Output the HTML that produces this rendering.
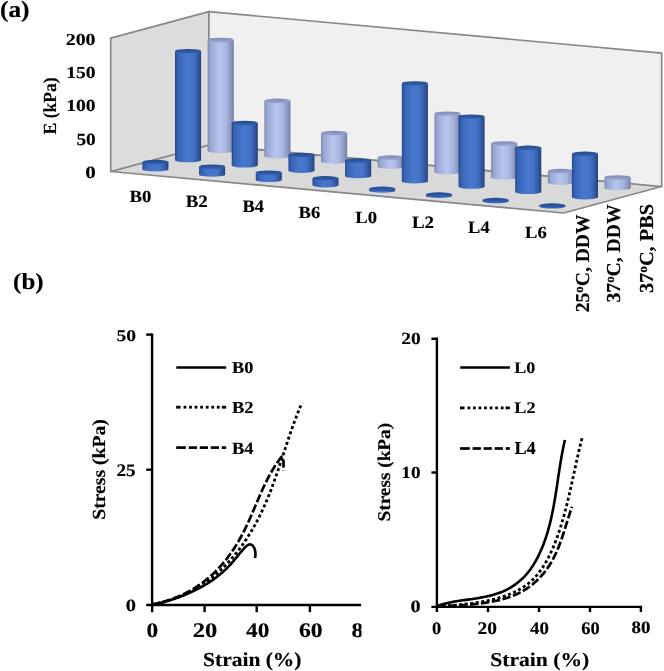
<!DOCTYPE html>
<html><head><meta charset="utf-8"><style>
html,body{margin:0;padding:0;background:#fff;}
svg{display:block;filter:contrast(1);}
text{font-family:"Liberation Serif",serif;font-weight:bold;font-size:100px;fill:#000;stroke:#000;stroke-width:0.8px;stroke-linejoin:round;text-rendering:geometricPrecision;}
</style></head><body>
<svg width="664" height="671" viewBox="0 0 664 671">
<defs>
<linearGradient id="gd" x1="0" y1="0" x2="1" y2="0">
<stop offset="0" stop-color="#27478a"/><stop offset="0.1" stop-color="#3763b5"/><stop offset="0.45" stop-color="#4878cd"/>
<stop offset="0.7" stop-color="#4472c6"/><stop offset="0.88" stop-color="#3359a3"/><stop offset="1" stop-color="#243f7a"/>
</linearGradient>
<linearGradient id="gl" x1="0" y1="0" x2="1" y2="0">
<stop offset="0" stop-color="#7a86ad"/><stop offset="0.1" stop-color="#98a6d2"/><stop offset="0.45" stop-color="#b8c6ee"/>
<stop offset="0.7" stop-color="#a9b6df"/><stop offset="0.88" stop-color="#8f9ac0"/><stop offset="1" stop-color="#6f7aa0"/>
</linearGradient>
<linearGradient id="cd" x1="0" y1="0" x2="0" y2="1">
<stop offset="0" stop-color="#24488f"/><stop offset="1" stop-color="#3462b2"/>
</linearGradient>
<linearGradient id="cl" x1="0" y1="0" x2="0" y2="1">
<stop offset="0" stop-color="#7e8ab4"/><stop offset="1" stop-color="#9aa7d2"/>
</linearGradient>
<clipPath id="clipL"><rect x="0" y="600" width="361.5" height="71"/></clipPath>
</defs>
<rect width="664" height="671" fill="#fff"/>
<polygon points="110.7,171.5 208.9,145.0 661.7,186.5 563.5,213.0" fill="#d9d9d9" stroke="#888888" stroke-width="1.7" stroke-linejoin="round"/>
<polygon points="110.7,171.5 208.9,145.0 208.9,11.599999999999994 110.7,38.099999999999994" fill="#dcdcdc" stroke="#888888" stroke-width="1.7" stroke-linejoin="round"/>
<polygon points="208.9,145.0 661.7,186.5 661.7,53.099999999999994 208.9,11.599999999999994" fill="#f0f0f0" stroke="#888888" stroke-width="1.7" stroke-linejoin="round"/>
<path d="M207.65,40.00 L207.65,150.80 A13.05,2.3 0 0 0 233.75,150.80 L233.75,40.00 Z" fill="url(#gl)"/><ellipse cx="220.70" cy="40.00" rx="13.05" ry="2.3" fill="url(#cl)"/>
<path d="M264.35,100.80 L264.35,156.10 A13.05,2.3 0 0 0 290.45,156.10 L290.45,100.80 Z" fill="url(#gl)"/><ellipse cx="277.40" cy="100.80" rx="13.05" ry="2.3" fill="url(#cl)"/>
<path d="M321.05,133.10 L321.05,161.40 A13.05,2.3 0 0 0 347.15,161.40 L347.15,133.10 Z" fill="url(#gl)"/><ellipse cx="334.10" cy="133.10" rx="13.05" ry="2.3" fill="url(#cl)"/>
<path d="M377.75,157.60 L377.75,166.70 A13.05,2.3 0 0 0 403.85,166.70 L403.85,157.60 Z" fill="url(#gl)"/><ellipse cx="390.80" cy="157.60" rx="13.05" ry="2.3" fill="url(#cl)"/>
<path d="M434.45,113.70 L434.45,172.00 A13.05,2.3 0 0 0 460.55,172.00 L460.55,113.70 Z" fill="url(#gl)"/><ellipse cx="447.50" cy="113.70" rx="13.05" ry="2.3" fill="url(#cl)"/>
<path d="M491.15,143.50 L491.15,177.30 A13.05,2.3 0 0 0 517.25,177.30 L517.25,143.50 Z" fill="url(#gl)"/><ellipse cx="504.20" cy="143.50" rx="13.05" ry="2.3" fill="url(#cl)"/>
<path d="M547.85,171.10 L547.85,182.60 A13.05,2.3 0 0 0 573.95,182.60 L573.95,171.10 Z" fill="url(#gl)"/><ellipse cx="560.90" cy="171.10" rx="13.05" ry="2.3" fill="url(#cl)"/>
<path d="M604.55,177.50 L604.55,187.90 A13.05,2.3 0 0 0 630.65,187.90 L630.65,177.50 Z" fill="url(#gl)"/><ellipse cx="617.60" cy="177.50" rx="13.05" ry="2.3" fill="url(#cl)"/>
<path d="M175.00,51.20 L175.00,160.00 A13.05,2.3 0 0 0 201.10,160.00 L201.10,51.20 Z" fill="url(#gd)"/><ellipse cx="188.05" cy="51.20" rx="13.05" ry="2.3" fill="url(#cd)"/>
<path d="M231.70,123.00 L231.70,165.30 A13.05,2.3 0 0 0 257.80,165.30 L257.80,123.00 Z" fill="url(#gd)"/><ellipse cx="244.75" cy="123.00" rx="13.05" ry="2.3" fill="url(#cd)"/>
<path d="M288.40,155.00 L288.40,170.60 A13.05,2.3 0 0 0 314.50,170.60 L314.50,155.00 Z" fill="url(#gd)"/><ellipse cx="301.45" cy="155.00" rx="13.05" ry="2.3" fill="url(#cd)"/>
<path d="M345.10,160.60 L345.10,175.90 A13.05,2.3 0 0 0 371.20,175.90 L371.20,160.60 Z" fill="url(#gd)"/><ellipse cx="358.15" cy="160.60" rx="13.05" ry="2.3" fill="url(#cd)"/>
<path d="M401.80,83.50 L401.80,181.20 A13.05,2.3 0 0 0 427.90,181.20 L427.90,83.50 Z" fill="url(#gd)"/><ellipse cx="414.85" cy="83.50" rx="13.05" ry="2.3" fill="url(#cd)"/>
<path d="M458.50,116.70 L458.50,186.50 A13.05,2.3 0 0 0 484.60,186.50 L484.60,116.70 Z" fill="url(#gd)"/><ellipse cx="471.55" cy="116.70" rx="13.05" ry="2.3" fill="url(#cd)"/>
<path d="M515.20,147.90 L515.20,191.80 A13.05,2.3 0 0 0 541.30,191.80 L541.30,147.90 Z" fill="url(#gd)"/><ellipse cx="528.25" cy="147.90" rx="13.05" ry="2.3" fill="url(#cd)"/>
<path d="M571.90,153.90 L571.90,197.10 A13.05,2.3 0 0 0 598.00,197.10 L598.00,153.90 Z" fill="url(#gd)"/><ellipse cx="584.95" cy="153.90" rx="13.05" ry="2.3" fill="url(#cd)"/>
<path d="M142.35,162.10 L142.35,169.20 A13.05,2.3 0 0 0 168.45,169.20 L168.45,162.10 Z" fill="url(#gd)"/><ellipse cx="155.40" cy="162.10" rx="13.05" ry="2.3" fill="url(#cd)"/>
<path d="M199.05,166.70 L199.05,174.50 A13.05,2.3 0 0 0 225.15,174.50 L225.15,166.70 Z" fill="url(#gd)"/><ellipse cx="212.10" cy="166.70" rx="13.05" ry="2.3" fill="url(#cd)"/>
<path d="M255.75,172.70 L255.75,179.80 A13.05,2.3 0 0 0 281.85,179.80 L281.85,172.70 Z" fill="url(#gd)"/><ellipse cx="268.80" cy="172.70" rx="13.05" ry="2.3" fill="url(#cd)"/>
<path d="M312.45,178.30 L312.45,185.10 A13.05,2.3 0 0 0 338.55,185.10 L338.55,178.30 Z" fill="url(#gd)"/><ellipse cx="325.50" cy="178.30" rx="13.05" ry="2.3" fill="url(#cd)"/>
<path d="M369.15,188.80 L369.15,190.40 A13.05,2.3 0 0 0 395.25,190.40 L395.25,188.80 Z" fill="url(#gd)"/><ellipse cx="382.20" cy="188.80" rx="13.05" ry="2.3" fill="url(#cd)"/>
<path d="M425.85,194.60 L425.85,195.70 A13.05,2.3 0 0 0 451.95,195.70 L451.95,194.60 Z" fill="url(#gd)"/><ellipse cx="438.90" cy="194.60" rx="13.05" ry="2.3" fill="url(#cd)"/>
<path d="M482.55,200.10 L482.55,201.00 A13.05,2.3 0 0 0 508.65,201.00 L508.65,200.10 Z" fill="url(#gd)"/><ellipse cx="495.60" cy="200.10" rx="13.05" ry="2.3" fill="url(#cd)"/>
<path d="M539.25,205.60 L539.25,206.30 A13.05,2.3 0 0 0 565.35,206.30 L565.35,205.60 Z" fill="url(#gd)"/><ellipse cx="552.30" cy="205.60" rx="13.05" ry="2.3" fill="url(#cd)"/>
<line x1="152.1" y1="333.4" x2="152.1" y2="612.2" stroke="#000" stroke-width="2.4" stroke-linecap="butt"/>
<line x1="146.2" y1="334.6" x2="152.1" y2="334.6" stroke="#000" stroke-width="2.4" stroke-linecap="butt"/>
<line x1="146.2" y1="469.7" x2="152.1" y2="469.7" stroke="#000" stroke-width="2.4" stroke-linecap="butt"/>
<line x1="146.2" y1="605.0" x2="361.1" y2="605.0" stroke="#000" stroke-width="2.4" stroke-linecap="butt"/>
<line x1="204.6" y1="605.0" x2="204.6" y2="612.2" stroke="#000" stroke-width="2.4" stroke-linecap="butt"/>
<line x1="256.7" y1="605.0" x2="256.7" y2="612.2" stroke="#000" stroke-width="2.4" stroke-linecap="butt"/>
<line x1="309.9" y1="605.0" x2="309.9" y2="612.2" stroke="#000" stroke-width="2.4" stroke-linecap="butt"/>
<line x1="436.9" y1="337.6" x2="436.9" y2="612.1" stroke="#000" stroke-width="2.4" stroke-linecap="butt"/>
<line x1="431.4" y1="338.8" x2="436.9" y2="338.8" stroke="#000" stroke-width="2.4" stroke-linecap="butt"/>
<line x1="431.4" y1="472.5" x2="436.9" y2="472.5" stroke="#000" stroke-width="2.4" stroke-linecap="butt"/>
<line x1="431.4" y1="606.9" x2="642.1" y2="606.9" stroke="#000" stroke-width="2.4" stroke-linecap="butt"/>
<line x1="488.0" y1="606.9" x2="488.0" y2="612.1" stroke="#000" stroke-width="2.4" stroke-linecap="butt"/>
<line x1="539.0" y1="606.9" x2="539.0" y2="612.1" stroke="#000" stroke-width="2.4" stroke-linecap="butt"/>
<line x1="590.0" y1="606.9" x2="590.0" y2="612.1" stroke="#000" stroke-width="2.4" stroke-linecap="butt"/>
<line x1="640.9" y1="606.9" x2="640.9" y2="612.1" stroke="#000" stroke-width="2.4" stroke-linecap="butt"/>
<line x1="176.30" y1="367.5" x2="226.20" y2="367.5" stroke="#000" stroke-width="2.6"/>
<line x1="176.10" y1="407.2" x2="180.60" y2="407.2" stroke="#000" stroke-width="2.8"/>
<line x1="183.55" y1="407.2" x2="186.35" y2="407.2" stroke="#000" stroke-width="2.8"/>
<line x1="189.10" y1="407.2" x2="191.90" y2="407.2" stroke="#000" stroke-width="2.8"/>
<line x1="194.65" y1="407.2" x2="197.45" y2="407.2" stroke="#000" stroke-width="2.8"/>
<line x1="200.20" y1="407.2" x2="203.00" y2="407.2" stroke="#000" stroke-width="2.8"/>
<line x1="205.75" y1="407.2" x2="208.55" y2="407.2" stroke="#000" stroke-width="2.8"/>
<line x1="211.30" y1="407.2" x2="214.10" y2="407.2" stroke="#000" stroke-width="2.8"/>
<line x1="216.85" y1="407.2" x2="219.65" y2="407.2" stroke="#000" stroke-width="2.8"/>
<line x1="221.80" y1="407.2" x2="226.20" y2="407.2" stroke="#000" stroke-width="2.8"/>
<line x1="176.20" y1="447.6" x2="185.90" y2="447.6" stroke="#000" stroke-width="2.7"/>
<line x1="188.70" y1="447.6" x2="197.00" y2="447.6" stroke="#000" stroke-width="2.7"/>
<line x1="199.70" y1="447.6" x2="208.00" y2="447.6" stroke="#000" stroke-width="2.7"/>
<line x1="210.70" y1="447.6" x2="219.00" y2="447.6" stroke="#000" stroke-width="2.7"/>
<line x1="221.70" y1="447.6" x2="226.20" y2="447.6" stroke="#000" stroke-width="2.7"/>
<line x1="460.20" y1="367.5" x2="509.90" y2="367.5" stroke="#000" stroke-width="2.6"/>
<line x1="460.00" y1="407.9" x2="464.50" y2="407.9" stroke="#000" stroke-width="2.8"/>
<line x1="467.45" y1="407.9" x2="470.25" y2="407.9" stroke="#000" stroke-width="2.8"/>
<line x1="473.00" y1="407.9" x2="475.80" y2="407.9" stroke="#000" stroke-width="2.8"/>
<line x1="478.55" y1="407.9" x2="481.35" y2="407.9" stroke="#000" stroke-width="2.8"/>
<line x1="484.10" y1="407.9" x2="486.90" y2="407.9" stroke="#000" stroke-width="2.8"/>
<line x1="489.65" y1="407.9" x2="492.45" y2="407.9" stroke="#000" stroke-width="2.8"/>
<line x1="495.20" y1="407.9" x2="498.00" y2="407.9" stroke="#000" stroke-width="2.8"/>
<line x1="500.75" y1="407.9" x2="503.55" y2="407.9" stroke="#000" stroke-width="2.8"/>
<line x1="505.50" y1="407.9" x2="509.90" y2="407.9" stroke="#000" stroke-width="2.8"/>
<line x1="460.10" y1="448.5" x2="469.80" y2="448.5" stroke="#000" stroke-width="2.7"/>
<line x1="472.60" y1="448.5" x2="480.90" y2="448.5" stroke="#000" stroke-width="2.7"/>
<line x1="483.60" y1="448.5" x2="491.90" y2="448.5" stroke="#000" stroke-width="2.7"/>
<line x1="494.60" y1="448.5" x2="502.90" y2="448.5" stroke="#000" stroke-width="2.7"/>
<line x1="505.60" y1="448.5" x2="509.90" y2="448.5" stroke="#000" stroke-width="2.7"/>
<path d="M152.25,604.79 L153.11,604.60 L153.98,604.40 L154.85,604.20 L155.72,603.99 L156.59,603.78 L157.46,603.57 L158.33,603.35 L159.20,603.13 L160.08,602.91 L160.95,602.68 L161.82,602.45 L162.69,602.22 L163.56,601.98 L164.42,601.74 L165.29,601.50 L166.16,601.25 L167.03,600.99 L167.90,600.74 L168.76,600.48 L169.63,600.21 L170.50,599.95 L171.36,599.67 L172.22,599.40 L173.09,599.12 L173.95,598.83 L174.81,598.54 L175.67,598.25 L176.52,597.95 L177.38,597.65 L178.24,597.35 L179.09,597.04 L179.94,596.72 L180.79,596.41 L181.64,596.08 L182.49,595.76 L183.34,595.43 L184.18,595.09 L185.02,594.75 L185.86,594.41 L186.70,594.06 L187.54,593.70 L188.37,593.35 L189.21,592.98 L190.04,592.62 L190.86,592.25 L191.69,591.87 L192.51,591.49 L193.33,591.10 L194.15,590.71 L194.97,590.32 L195.78,589.92 L196.59,589.51 L197.40,589.10 L198.20,588.69 L199.00,588.27 L199.80,587.84 L200.60,587.41 L201.39,586.98 L202.18,586.54 L202.96,586.09 L203.75,585.65 L204.53,585.19 L205.30,584.73 L206.08,584.26 L206.84,583.79 L207.61,583.32 L208.37,582.84 L209.13,582.35 L209.89,581.86 L210.64,581.36 L211.38,580.86 L212.13,580.35 L212.86,579.84 L213.60,579.32 L214.33,578.80 L215.06,578.27 L215.78,577.73 L216.50,577.19 L217.21,576.65 L217.92,576.09 L218.62,575.54 L219.32,574.97 L220.02,574.40 L220.71,573.83 L221.39,573.25 L222.07,572.66 L222.75,572.07 L223.42,571.47 L224.09,570.87 L224.75,570.26 L225.40,569.64 L226.06,569.02 L226.70,568.39 L227.34,567.76 L227.98,567.12 L228.60,566.47 L229.23,565.82 L229.85,565.16 L230.46,564.50 L231.07,563.83 L231.67,563.15 L232.26,562.47 L232.86,561.78 L233.45,561.09 L234.03,560.39 L234.62,559.69 L235.20,558.98 L235.78,558.27 L236.36,557.56 L236.95,556.84 L237.53,556.13 L238.12,555.41 L238.71,554.68 L239.31,553.96 L239.90,553.24 L240.51,552.51 L241.12,551.79 L241.73,551.07 L242.36,550.34 L242.99,549.62 L243.63,548.90 L244.28,548.19 L244.93,547.51 L245.59,546.86 L246.25,546.26 L246.90,545.73 L247.56,545.26 L248.21,544.89 L248.86,544.61 L249.50,544.44 L250.13,544.40 L250.74,544.49 L251.34,544.69 L251.92,545.02 L252.47,545.45 L252.99,545.98 L253.47,546.61 L253.91,547.32 L254.30,548.12 L254.64,548.99 L254.92,549.93 L255.15,550.91 L255.32,551.93 L255.43,552.98 L255.47,554.03 L255.45,555.08 L255.36,556.10 L255.20,557.10 L254.96,558.04" fill="none" stroke="#000" stroke-width="2.6" stroke-linejoin="round"/>
<path d="M151.22,604.56 L153.14,604.25 L155.05,603.90 L156.94,603.54 L158.81,603.15 L160.67,602.73 L162.51,602.29 L164.34,601.82 L166.15,601.33 L167.95,600.82 L169.73,600.28 L171.49,599.71 L173.24,599.13 L174.97,598.52 L176.69,597.89 L178.39,597.23 L180.08,596.55 L181.75,595.85 L183.41,595.13 L185.05,594.39 L186.67,593.62 L188.29,592.84 L189.88,592.03 L191.46,591.20 L193.03,590.35 L194.58,589.49 L196.12,588.60 L197.64,587.69 L199.15,586.76 L200.64,585.82 L202.12,584.85 L203.58,583.87 L205.03,582.86 L206.46,581.84 L207.88,580.80 L209.29,579.75 L210.68,578.67 L212.06,577.58 L213.42,576.48 L214.77,575.35 L216.10,574.21 L217.42,573.05 L218.73,571.88 L220.02,570.69 L221.30,569.49 L222.57,568.27 L223.82,567.03 L225.06,565.78 L226.28,564.52 L227.50,563.24 L228.69,561.95 L229.88,560.65 L231.05,559.33 L232.21,558.00 L233.35,556.65 L234.48,555.29 L235.60,553.92 L236.71,552.54 L237.80,551.15 L238.88,549.74 L239.94,548.33 L241.00,546.90 L242.04,545.46 L243.07,544.01 L244.08,542.55 L245.08,541.08 L246.07,539.60 L247.05,538.11 L248.02,536.61 L248.97,535.10 L249.91,533.58 L250.84,532.06 L251.75,530.52 L252.66,528.98 L253.55,527.43 L254.43,525.87 L255.29,524.31 L256.15,522.73 L256.99,521.16 L257.82,519.57 L258.64,517.98 L259.45,516.38 L260.25,514.77 L261.03,513.16 L261.80,511.55 L262.57,509.93 L263.32,508.30 L264.05,506.67 L264.78,505.03 L265.50,503.40 L266.20,501.75 L266.90,500.10 L267.59,498.45 L268.26,496.80 L268.93,495.14 L269.59,493.48 L270.24,491.81 L270.89,490.14 L271.52,488.47 L272.15,486.80 L272.77,485.12 L273.39,483.44 L274.00,481.76 L274.60,480.08 L275.20,478.39 L275.79,476.70 L276.37,475.01 L276.96,473.32 L277.54,471.63 L278.11,469.94 L278.68,468.24 L279.25,466.55 L279.82,464.85 L280.38,463.15 L280.94,461.46 L281.50,459.76 L282.06,458.06 L282.61,456.36 L283.17,454.66 L283.73,452.97 L284.28,451.27 L284.84,449.57 L285.40,447.88 L285.95,446.18 L286.51,444.49 L287.07,442.80 L287.64,441.10 L288.20,439.41 L288.77,437.73 L289.34,436.04 L289.92,434.36 L290.50,432.67 L291.08,430.99 L291.67,429.32 L292.26,427.64 L292.86,425.97 L293.47,424.30 L294.08,422.63 L294.69,420.97 L295.32,419.31 L295.95,417.66 L296.58,416.00 L297.23,414.35 L297.88,412.71 L298.54,411.07 L299.21,409.43 L299.89,407.80 L300.58,406.17 L301.28,404.55 L301.99,402.94" fill="none" stroke="#000" stroke-width="2.8" stroke-dasharray="3.0,2.55" stroke-linejoin="round"/>
<path d="M151.90,604.47 L153.40,604.19 L154.89,603.89 L156.37,603.57 L157.85,603.24 L159.32,602.88 L160.78,602.51 L162.24,602.13 L163.70,601.72 L165.14,601.30 L166.58,600.86 L168.01,600.41 L169.44,599.93 L170.85,599.44 L172.26,598.94 L173.67,598.41 L175.06,597.87 L176.45,597.32 L177.83,596.74 L179.19,596.15 L180.56,595.55 L181.91,594.93 L183.25,594.29 L184.59,593.64 L185.91,592.97 L187.23,592.28 L188.53,591.58 L189.83,590.86 L191.12,590.13 L192.39,589.38 L193.66,588.62 L194.92,587.84 L196.16,587.05 L197.40,586.24 L198.62,585.41 L199.83,584.57 L201.03,583.72 L202.23,582.85 L203.40,581.96 L204.57,581.07 L205.73,580.15 L206.87,579.23 L208.00,578.29 L209.12,577.33 L210.23,576.37 L211.33,575.39 L212.42,574.39 L213.49,573.39 L214.55,572.37 L215.60,571.34 L216.64,570.29 L217.67,569.24 L218.68,568.17 L219.68,567.09 L220.67,566.00 L221.65,564.90 L222.62,563.79 L223.57,562.67 L224.51,561.53 L225.44,560.39 L226.36,559.23 L227.26,558.07 L228.16,556.90 L229.04,555.71 L229.90,554.52 L230.76,553.32 L231.60,552.11 L232.44,550.89 L233.26,549.66 L234.07,548.42 L234.87,547.18 L235.65,545.93 L236.43,544.67 L237.20,543.40 L237.95,542.13 L238.70,540.85 L239.44,539.56 L240.16,538.27 L240.88,536.97 L241.59,535.66 L242.29,534.35 L242.98,533.04 L243.66,531.71 L244.33,530.39 L244.99,529.06 L245.65,527.72 L246.30,526.38 L246.94,525.04 L247.57,523.69 L248.20,522.34 L248.82,520.99 L249.43,519.63 L250.04,518.27 L250.64,516.91 L251.24,515.55 L251.84,514.18 L252.43,512.81 L253.02,511.45 L253.60,510.08 L254.19,508.71 L254.77,507.34 L255.35,505.97 L255.93,504.60 L256.51,503.23 L257.10,501.86 L257.68,500.50 L258.26,499.13 L258.85,497.77 L259.44,496.41 L260.03,495.05 L260.63,493.69 L261.23,492.34 L261.83,490.98 L262.44,489.64 L263.06,488.29 L263.68,486.95 L264.30,485.62 L264.94,484.29 L265.58,482.96 L266.23,481.64 L266.89,480.32 L267.55,479.01 L268.23,477.71 L268.92,476.41 L269.61,475.12 L270.32,473.83 L271.04,472.56 L271.77,471.28 L272.51,470.02 L273.27,468.77 L274.04,467.52 L274.82,466.28 L275.62,465.05 L276.43,463.83 L277.26,462.62 L278.10,461.42 L278.96,460.23 L279.84,459.05 L280.73,457.88 L281.65,456.72 L283.20,459.00 L283.50,462.00 L283.50,466.00 L283.30,470.60" fill="none" stroke="#000" stroke-width="2.7" stroke-dasharray="8.4,2.6" stroke-linejoin="round"/>
<path d="M436.74,606.16 L438.14,605.65 L439.56,605.17 L441.00,604.72 L442.46,604.29 L443.93,603.88 L445.43,603.50 L446.94,603.14 L448.46,602.80 L450.00,602.47 L451.55,602.17 L453.12,601.87 L454.69,601.59 L456.28,601.32 L457.87,601.07 L459.48,600.82 L461.09,600.57 L462.71,600.33 L464.33,600.10 L465.96,599.87 L467.59,599.64 L469.22,599.41 L470.86,599.17 L472.50,598.93 L474.14,598.69 L475.77,598.44 L477.41,598.18 L479.04,597.91 L480.67,597.63 L482.29,597.34 L483.91,597.03 L485.52,596.71 L487.12,596.36 L488.71,596.00 L490.30,595.62 L491.87,595.21 L493.44,594.78 L494.99,594.33 L496.52,593.85 L498.05,593.34 L499.55,592.79 L501.04,592.22 L502.52,591.62 L503.98,590.98 L505.41,590.30 L506.83,589.60 L508.23,588.86 L509.61,588.09 L510.97,587.29 L512.31,586.45 L513.63,585.59 L514.93,584.69 L516.20,583.77 L517.45,582.81 L518.68,581.83 L519.88,580.81 L521.06,579.77 L522.21,578.70 L523.34,577.60 L524.45,576.47 L525.52,575.32 L526.57,574.14 L527.60,572.93 L528.59,571.70 L529.56,570.44 L530.50,569.16 L531.42,567.86 L532.31,566.53 L533.17,565.19 L534.02,563.84 L534.84,562.46 L535.64,561.07 L536.41,559.67 L537.17,558.26 L537.91,556.84 L538.62,555.41 L539.32,553.97 L540.00,552.52 L540.66,551.07 L541.30,549.60 L541.93,548.13 L542.54,546.65 L543.13,545.17 L543.70,543.68 L544.26,542.18 L544.81,540.67 L545.34,539.16 L545.85,537.64 L546.35,536.11 L546.83,534.58 L547.31,533.05 L547.77,531.51 L548.21,529.96 L548.64,528.41 L549.06,526.85 L549.47,525.29 L549.87,523.73 L550.26,522.16 L550.64,520.58 L551.00,519.01 L551.36,517.43 L551.71,515.84 L552.04,514.26 L552.37,512.67 L552.70,511.07 L553.01,509.48 L553.32,507.88 L553.62,506.28 L553.91,504.68 L554.19,503.08 L554.47,501.47 L554.75,499.87 L555.02,498.26 L555.28,496.65 L555.54,495.04 L555.80,493.44 L556.05,491.83 L556.30,490.22 L556.55,488.61 L556.80,487.00 L557.04,485.39 L557.28,483.79 L557.52,482.18 L557.76,480.58 L558.00,478.97 L558.24,477.37 L558.47,475.77 L558.71,474.18 L558.95,472.58 L559.20,470.99 L559.44,469.40 L559.69,467.81 L559.94,466.23 L560.19,464.65 L560.44,463.07 L560.70,461.49 L560.96,459.92 L561.23,458.36 L561.50,456.80 L561.78,455.24 L562.07,453.69 L562.36,452.14 L562.65,450.60 L562.96,449.06 L563.27,447.53 L563.58,446.01 L563.91,444.49 L564.25,442.97 L564.59,441.47 L564.94,439.97" fill="none" stroke="#000" stroke-width="2.6" stroke-linejoin="round"/>
<path d="M437.13,606.67 L438.64,606.54 L440.18,606.41 L441.73,606.28 L443.30,606.15 L444.89,606.02 L446.50,605.89 L448.12,605.76 L449.76,605.62 L451.41,605.48 L453.08,605.34 L454.76,605.19 L456.45,605.04 L458.15,604.88 L459.85,604.71 L461.57,604.54 L463.30,604.36 L465.03,604.17 L466.76,603.97 L468.51,603.76 L470.25,603.54 L472.00,603.31 L473.75,603.07 L475.51,602.82 L477.26,602.55 L479.01,602.28 L480.77,601.98 L482.51,601.67 L484.26,601.35 L486.00,601.01 L487.74,600.66 L489.47,600.28 L491.20,599.89 L492.91,599.48 L494.62,599.06 L496.32,598.61 L498.01,598.14 L499.69,597.65 L501.35,597.14 L503.01,596.61 L504.64,596.05 L506.27,595.47 L507.87,594.87 L509.47,594.24 L511.04,593.58 L512.59,592.90 L514.13,592.20 L515.64,591.46 L517.14,590.70 L518.61,589.91 L520.06,589.09 L521.48,588.24 L522.88,587.36 L524.26,586.45 L525.61,585.51 L526.93,584.53 L528.22,583.53 L529.48,582.48 L530.72,581.41 L531.92,580.30 L533.10,579.16 L534.24,577.99 L535.36,576.79 L536.46,575.56 L537.52,574.31 L538.56,573.02 L539.58,571.71 L540.57,570.38 L541.54,569.02 L542.48,567.64 L543.40,566.24 L544.30,564.82 L545.17,563.38 L546.03,561.92 L546.86,560.44 L547.67,558.94 L548.47,557.43 L549.24,555.91 L550.00,554.37 L550.74,552.82 L551.46,551.26 L552.16,549.68 L552.85,548.10 L553.52,546.51 L554.18,544.91 L554.82,543.30 L555.45,541.69 L556.06,540.07 L556.66,538.45 L557.25,536.83 L557.83,535.21 L558.40,533.58 L558.95,531.95 L559.49,530.32 L560.03,528.69 L560.55,527.06 L561.06,525.43 L561.57,523.79 L562.06,522.15 L562.55,520.52 L563.02,518.88 L563.49,517.24 L563.95,515.60 L564.40,513.95 L564.85,512.31 L565.28,510.66 L565.71,509.02 L566.14,507.37 L566.56,505.72 L566.97,504.07 L567.38,502.42 L567.78,500.77 L568.17,499.12 L568.56,497.47 L568.95,495.81 L569.33,494.16 L569.71,492.51 L570.09,490.85 L570.46,489.20 L570.83,487.54 L571.20,485.88 L571.57,484.23 L571.93,482.57 L572.29,480.91 L572.65,479.25 L573.01,477.59 L573.37,475.93 L573.73,474.28 L574.09,472.62 L574.45,470.96 L574.81,469.30 L575.17,467.64 L575.54,465.98 L575.90,464.32 L576.27,462.66 L576.64,461.00 L577.01,459.35 L577.38,457.69 L577.76,456.03 L578.14,454.37 L578.52,452.71 L578.91,451.06 L579.30,449.40 L579.70,447.74 L580.10,446.09 L580.51,444.43 L580.93,442.78 L581.34,441.12 L581.77,439.47 L582.20,437.82" fill="none" stroke="#000" stroke-width="2.8" stroke-dasharray="3.0,2.55" stroke-linejoin="round"/>
<path d="M437.03,606.65 L438.18,606.57 L439.35,606.49 L440.52,606.42 L441.70,606.34 L442.89,606.27 L444.09,606.20 L445.30,606.13 L446.51,606.06 L447.73,605.99 L448.96,605.92 L450.20,605.85 L451.44,605.78 L452.69,605.71 L453.94,605.64 L455.20,605.57 L456.47,605.49 L457.74,605.42 L459.02,605.34 L460.30,605.26 L461.58,605.18 L462.87,605.09 L464.16,605.00 L465.45,604.91 L466.75,604.81 L468.05,604.71 L469.35,604.60 L470.65,604.49 L471.95,604.37 L473.26,604.25 L474.57,604.12 L475.87,603.98 L477.18,603.84 L478.48,603.69 L479.79,603.54 L481.09,603.38 L482.40,603.20 L483.70,603.03 L485.00,602.84 L486.30,602.64 L487.59,602.44 L488.88,602.22 L490.17,602.00 L491.46,601.76 L492.74,601.52 L494.02,601.27 L495.29,601.00 L496.56,600.72 L497.82,600.43 L499.08,600.13 L500.33,599.82 L501.58,599.50 L502.82,599.16 L504.05,598.81 L505.28,598.44 L506.50,598.06 L507.71,597.67 L508.91,597.27 L510.11,596.85 L511.29,596.41 L512.47,595.96 L513.64,595.49 L514.79,595.01 L515.94,594.51 L517.08,594.00 L518.21,593.46 L519.32,592.91 L520.43,592.35 L521.52,591.76 L522.60,591.16 L523.67,590.54 L524.73,589.90 L525.77,589.25 L526.80,588.58 L527.82,587.89 L528.83,587.18 L529.83,586.46 L530.81,585.72 L531.78,584.96 L532.74,584.19 L533.68,583.40 L534.61,582.60 L535.53,581.78 L536.44,580.95 L537.33,580.10 L538.21,579.23 L539.08,578.36 L539.93,577.47 L540.77,576.56 L541.60,575.64 L542.41,574.71 L543.21,573.76 L544.00,572.80 L544.77,571.82 L545.53,570.84 L546.28,569.84 L547.01,568.83 L547.73,567.81 L548.43,566.77 L549.12,565.72 L549.79,564.66 L550.46,563.59 L551.10,562.51 L551.73,561.42 L552.35,560.32 L552.96,559.21 L553.55,558.08 L554.12,556.95 L554.69,555.81 L555.24,554.66 L555.78,553.51 L556.31,552.34 L556.83,551.17 L557.34,549.99 L557.84,548.81 L558.33,547.62 L558.81,546.42 L559.28,545.22 L559.74,544.01 L560.19,542.81 L560.64,541.59 L561.08,540.38 L561.51,539.16 L561.93,537.94 L562.35,536.71 L562.76,535.49 L563.17,534.26 L563.57,533.04 L563.97,531.81 L564.36,530.58 L564.75,529.36 L565.14,528.13 L565.52,526.91 L565.90,525.69 L566.28,524.47 L566.65,523.26 L567.03,522.04 L567.40,520.83 L567.77,519.63 L568.15,518.43 L568.52,517.23 L568.89,516.04 L569.27,514.86 L569.64,513.68 L570.02,512.51 L570.40,511.35 L570.78,510.19 L571.17,509.05 L571.56,507.91 L571.95,506.77" fill="none" stroke="#000" stroke-width="2.7" stroke-dasharray="8.4,2.6" stroke-linejoin="round"/>
<text transform="matrix(0.25417 0.00000 0.00000 0.23333 -0.067 16.500)">(a)</text>
<text transform="matrix(0.19894 0.00000 0.00000 0.16716 65.704 44.566)">200</text>
<text transform="matrix(0.19601 0.00000 0.00000 0.16765 66.132 77.665)">150</text>
<text transform="matrix(0.19601 0.00000 0.00000 0.16765 66.132 110.665)">100</text>
<text transform="matrix(0.19293 0.00000 0.00000 0.17164 76.428 144.557)">50</text>
<text transform="matrix(0.21071 0.00000 0.00000 0.17313 85.257 177.554)">0</text>
<text transform="matrix(0.00000 -0.17586 0.18444 0.00000 55.527 134.452)">E (kPa)</text>
<text transform="matrix(0.18739 0.00000 0.00000 0.17015 129.475 201.510)">B0</text>
<text transform="matrix(0.18909 0.00000 0.00000 0.17273 185.737 206.662)">B2</text>
<text transform="matrix(0.18407 0.00000 0.00000 0.17538 242.512 211.570)">B4</text>
<text transform="matrix(0.18571 0.00000 0.00000 0.17015 298.574 217.565)">B6</text>
<text transform="matrix(0.18739 0.00000 0.00000 0.17015 355.285 222.550)">L0</text>
<text transform="matrix(0.18909 0.00000 0.00000 0.17273 411.897 227.602)">L2</text>
<text transform="matrix(0.18407 0.00000 0.00000 0.17538 468.122 232.560)">L4</text>
<text transform="matrix(0.18571 0.00000 0.00000 0.17015 525.084 237.505)">L6</text>
<text transform="matrix(0.00000 -0.19555 0.19697 0.00000 588.603 312.182)">25<tspan font-size="66" dy="-27">o</tspan><tspan dy="27">C, DDW</tspan></text>
<text transform="matrix(0.00000 -0.19615 0.19848 0.00000 619.502 302.485)">37<tspan font-size="66" dy="-27">o</tspan><tspan dy="27">C, DDW</tspan></text>
<text transform="matrix(0.00000 -0.20326 0.19848 0.00000 652.602 293.113)">37<tspan font-size="66" dy="-27">o</tspan><tspan dy="27">C, PBS</tspan></text>
<text transform="matrix(0.24912 0.00000 0.00000 0.23000 13.104 288.570)">(b)</text>
<text transform="matrix(0.19565 0.00000 0.00000 0.16269 116.417 340.675)">50</text>
<text transform="matrix(0.19130 0.00000 0.00000 0.17576 116.435 475.624)">25</text>
<text transform="matrix(0.20476 0.00000 0.00000 0.17313 125.781 610.654)">0</text>
<text transform="matrix(0.00000 -0.19622 0.18444 0.00000 104.627 519.681)">Stress (kPa)</text>
<text transform="matrix(0.23333 0.00000 0.00000 0.20746 146.567 636.685)">0</text>
<text transform="matrix(0.24565 0.00000 0.00000 0.20746 192.817 636.685)">20</text>
<text transform="matrix(0.23368 0.00000 0.00000 0.20746 246.066 636.685)">40</text>
<text transform="matrix(0.23656 0.00000 0.00000 0.20746 298.890 636.685)">60</text>
<text transform="matrix(0.21492 0.00000 0.00000 0.19701 203.025 665.606)">Strain (%)</text>
<text transform="matrix(0.18288 0.00000 0.00000 0.16567 231.934 372.669)">B0</text>
<text transform="matrix(0.18455 0.00000 0.00000 0.16818 231.931 412.532)">B2</text>
<text transform="matrix(0.18319 0.00000 0.00000 0.17231 231.934 453.600)">B4</text>
<text transform="matrix(0.19457 0.00000 0.00000 0.17015 401.322 343.660)">20</text>
<text transform="matrix(0.19205 0.00000 0.00000 0.16912 401.364 477.662)">10</text>
<text transform="matrix(0.20238 0.00000 0.00000 0.17313 410.490 611.554)">0</text>
<text transform="matrix(0.00000 -0.19264 0.18000 0.00000 389.520 521.463)">Stress (kPa)</text>
<text transform="matrix(0.18333 0.00000 0.00000 0.17612 432.067 633.648)">0</text>
<text transform="matrix(0.19457 0.00000 0.00000 0.17910 477.522 633.642)">20</text>
<text transform="matrix(0.18842 0.00000 0.00000 0.17612 530.012 633.648)">40</text>
<text transform="matrix(0.18495 0.00000 0.00000 0.17612 581.145 633.648)">60</text>
<text transform="matrix(0.18925 0.00000 0.00000 0.17463 631.432 632.551)">80</text>
<text transform="matrix(0.21559 0.00000 0.00000 0.19552 490.322 665.609)">Strain (%)</text>
<text transform="matrix(0.18018 0.00000 0.00000 0.16119 514.240 372.678)">L0</text>
<text transform="matrix(0.18364 0.00000 0.00000 0.16212 514.233 412.638)">L2</text>
<text transform="matrix(0.18230 0.00000 0.00000 0.18154 514.435 453.600)">L4</text>
<g clip-path="url(#clipL)"><text transform="matrix(0.23763 0.00000 0.00000 0.20746 351.487 636.685)">80</text></g>
</svg>
</body></html>
